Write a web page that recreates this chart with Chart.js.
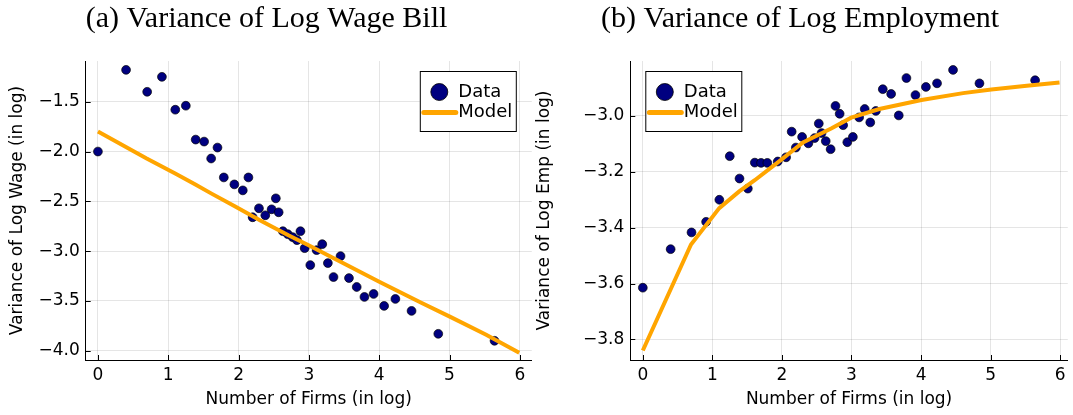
<!DOCTYPE html>
<html>
<head>
  <title>Variance by Number of Firms</title>
  <script src="https://cdn.jsdelivr.net/npm/chart.js"></script>
  <style>
    body {
      margin: 0;
      background: #fff;
      width: 1073px;
      height: 415px;
      position: relative;
      overflow: hidden;
    }
    canvas { position: absolute; top: 0; }
    #wageChart { left: 0; }
    #empChart { left: 527px; }
  </style>
</head>
<body>
  <canvas id="wageChart" width="537" height="415"></canvas>
  <canvas id="empChart" width="546" height="415"></canvas>
<script>
// log number of firms for each data bin (shared by both panels)
const firmsLog = [0, 0.40, 0.70, 0.91, 1.10, 1.25, 1.39, 1.51, 1.61, 1.70, 1.79, 1.94, 2.06, 2.14,
  2.20, 2.29, 2.38, 2.47, 2.53, 2.57, 2.63, 2.70, 2.77, 2.83, 2.88, 2.94, 3.02, 3.11, 3.19, 3.27,
  3.35, 3.45, 3.57, 3.68, 3.79, 3.92, 4.07, 4.23, 4.46, 4.84, 5.64];

const wageVar = [-2.00, -1.18, -1.40, -1.25, -1.58, -1.54, -1.88, -1.90, -2.07, -1.96, -2.26, -2.33,
  -2.39, -2.26, -2.66, -2.57, -2.64, -2.58, -2.47, -2.61, -2.80, -2.83, -2.86, -2.89, -2.80, -2.97,
  -3.14, -2.99, -2.93, -3.12, -3.26, -3.05, -3.27, -3.36, -3.46, -3.43, -3.55, -3.48, -3.60, -3.83, -3.90];

const empVar = [-3.615, -3.477, -3.417, -3.379, -3.300, -3.144, -3.224, -3.260, -3.167, -3.168, -3.168,
  -3.163, -3.148, -3.056, -3.113, -3.075, -3.098, -3.079, -3.027, -3.061, -3.090, -3.119, -2.964,
  -2.992, -3.033, -3.094, -3.075, -3.005, -2.975, -3.023, -2.982, -2.904, -2.921, -2.998, -2.864,
  -2.925, -2.896, -2.883, -2.835, -2.883, -2.872];

// model curve, evaluated at log(n) firms
const modelFirmsLog = [0, 0.693, 1.099, 1.386, 1.609, 1.946, 2.303, 2.708, 2.996, 3.401, 4.007,
  4.605, 5.011, 5.521, 5.991];
const modelWage = [-1.80, -2.07, -2.22, -2.33, -2.42, -2.55, -2.69, -2.84, -2.94, -3.09, -3.31,
  -3.52, -3.66, -3.84, -4.02];
const modelEmp = [-3.84, -3.46, -3.33, -3.27, -3.23, -3.165, -3.095, -3.045, -3.006, -2.975, -2.943,
  -2.918, -2.905, -2.892, -2.880];

const xTicks = [0, 1, 2, 3, 4, 5, 6];

const DATA_COLOR = '#000080';
const MODEL_COLOR = '#FFA500';
const SANS = "'DejaVu Sans', sans-serif";

function toPoints(xs, ys) {
  return xs.map((x, i) => ({ x: x, y: ys[i] }));
}

function fmt(v, digits) {
  return v.toFixed(digits).replace('-', '\u2212');
}

// inward tick marks + boxed legend inside the plot area
const plotDecor = {
  id: 'plotDecor',
  afterDraw(chart, args, opts) {
    const ctx = chart.ctx;
    const area = chart.chartArea;
    const xs = chart.scales.x, ys = chart.scales.y;
    ctx.save();
    ctx.strokeStyle = '#000';
    ctx.lineWidth = 1;
    ctx.beginPath();
    xs.ticks.forEach(t => {
      const px = Math.round(xs.getPixelForValue(t.value)) + 0.5;
      ctx.moveTo(px, area.bottom);
      ctx.lineTo(px, area.bottom - 5);
    });
    ys.ticks.forEach(t => {
      const py = Math.round(ys.getPixelForValue(t.value)) + 0.5;
      ctx.moveTo(area.left, py);
      ctx.lineTo(area.left + 5, py);
    });
    ctx.stroke();

    // legend
    const w = 97, h = 61;
    const x0 = opts.side === 'right' ? area.right - 15 - w : area.left + 15;
    const y0 = area.top + 10;
    ctx.fillStyle = '#fff';
    ctx.fillRect(x0, y0, w, h);
    ctx.strokeStyle = '#000';
    ctx.strokeRect(x0 + 0.5, y0 + 0.5, w - 1, h - 1);

    const ds = chart.data.datasets;
    ctx.beginPath();
    ctx.arc(x0 + 19.5, y0 + 21, 8.5, 0, Math.PI * 2);
    ctx.fillStyle = ds[0].backgroundColor;
    ctx.fill();
    ctx.lineWidth = 0.8;
    ctx.strokeStyle = '#000';
    ctx.stroke();

    ctx.beginPath();
    ctx.moveTo(x0 + 4, y0 + 41.5);
    ctx.lineTo(x0 + 36, y0 + 41.5);
    ctx.strokeStyle = ds[1].borderColor;
    ctx.lineWidth = 5;
    ctx.lineCap = 'round';
    ctx.stroke();

    ctx.fillStyle = '#000';
    ctx.font = '18px ' + SANS;
    ctx.textBaseline = 'middle';
    ctx.textAlign = 'left';
    ctx.fillText(ds[0].label, x0 + 38.5, y0 + 21);
    ctx.fillText(ds[1].label, x0 + 38.5, y0 + 41.5);
    ctx.restore();
  }
};

function makeChart(id, o) {
  return new Chart(document.getElementById(id), {
    type: 'scatter',
    data: {
      datasets: [{
        label: 'Data',
        data: toPoints(firmsLog, o.data),
        backgroundColor: DATA_COLOR,
        borderColor: 'rgba(0,0,0,0.85)',
        borderWidth: 0.8,
        pointRadius: 4.4,
        order: 2
      }, {
        label: 'Model',
        type: 'line',
        data: toPoints(modelFirmsLog, o.model),
        borderColor: MODEL_COLOR,
        backgroundColor: MODEL_COLOR,
        borderWidth: 4,
        pointRadius: 0,
        fill: false,
        tension: 0,
        order: 1
      }]
    },
    options: {
      responsive: false,
      animation: false,
      devicePixelRatio: 1,
      layout: { padding: { left: 0, right: o.padRight, top: 0, bottom: 0 } },
      plugins: {
        legend: { display: false },
        tooltip: { enabled: false },
        title: {
          display: true,
          text: o.title,
          color: '#000',
          font: { family: "'Liberation Serif', serif", size: 30, weight: 'normal' },
          padding: { top: 1, bottom: 24 }
        },
        plotDecor: { side: o.legendSide }
      },
      scales: {
        x: {
          type: 'linear',
          min: o.xMin,
          max: o.xMax,
          afterBuildTicks: s => { s.ticks = xTicks.map(v => ({ value: v })); },
          afterFit: s => { s.height = 55; },
          ticks: {
            color: '#000',
            font: { family: SANS, size: 17 },
            padding: 5,
            callback: v => fmt(v, 0)
          },
          grid: { color: 'rgba(0,0,0,0.1)', drawTicks: false },
          border: { color: '#000', width: 1 },
          title: {
            display: true,
            text: 'Number of Firms (in log)',
            color: '#000',
            font: { family: SANS, size: 17 },
            padding: { top: 0, bottom: 5 }
          }
        },
        y: {
          type: 'linear',
          min: o.yMin,
          max: o.yMax,
          afterBuildTicks: s => { s.ticks = o.yTicks.map(v => ({ value: v })); },
          afterFit: s => { s.width = o.yWidth; },
          ticks: {
            color: '#000',
            font: { family: SANS, size: 17 },
            padding: 6,
            callback: v => fmt(v, 1)
          },
          grid: { color: 'rgba(0,0,0,0.1)', drawTicks: false },
          border: { color: '#000', width: 1 },
          title: {
            display: true,
            text: o.yTitle,
            color: '#000',
            font: { family: SANS, size: 17 },
            padding: { top: 7, bottom: 0 }
          }
        }
      }
    },
    plugins: [plotDecor]
  });
}

makeChart('wageChart', {
  title: '(a) Variance of Log Wage Bill',
  yTitle: 'Variance of Log Wage (in log)',
  data: wageVar,
  model: modelWage,
  xMin: -0.174, xMax: 6.17,
  yMin: -4.093, yMax: -1.091,
  yTicks: [-4.0, -3.5, -3.0, -2.5, -2.0, -1.5],
  yWidth: 85.7,
  padRight: 4,
  legendSide: 'right'
});

makeChart('empChart', {
  title: '(b) Variance of Log Employment',
  yTitle: 'Variance of Log Emp (in log)',
  data: empVar,
  model: modelEmp,
  xMin: -0.18, xMax: 6.11,
  yMin: -3.874, yMax: -2.803,
  yTicks: [-3.8, -3.6, -3.4, -3.2, -3.0],
  yWidth: 103.3,
  padRight: 0,
  legendSide: 'left'
});
</script>
</body>
</html>
